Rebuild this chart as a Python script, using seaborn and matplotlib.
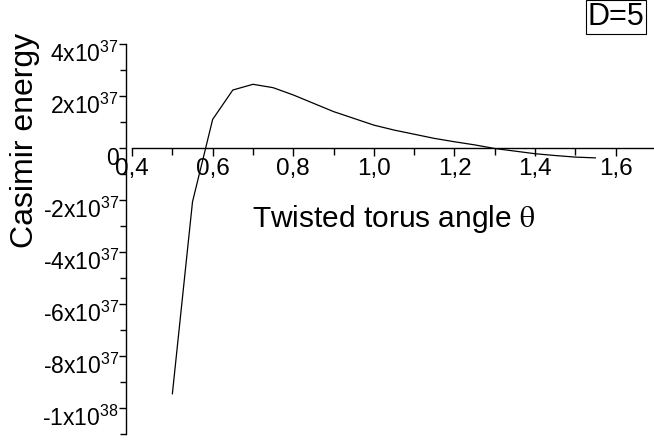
import matplotlib
matplotlib.use("Agg")
import matplotlib.pyplot as plt
import matplotlib.transforms as mtransforms
import seaborn as sns
import numpy as np
import pandas as pd
from matplotlib.ticker import FixedLocator

theta = [0.50, 0.55, 0.60, 0.65, 0.70, 0.75, 0.80, 0.85, 0.90, 0.95, 1.00,
         1.05, 1.10, 1.15, 1.20, 1.25, 1.30, 1.35, 1.40, 1.45, 1.50, 1.55]
energy_e37 = [-9.46, -2.07, 1.10, 2.23, 2.45, 2.32, 2.04, 1.72, 1.40, 1.14, 0.88,
              0.69, 0.53, 0.37, 0.24, 0.12, -0.02, -0.12, -0.22, -0.29, -0.35, -0.38]
xticks = [0.4, 0.6, 0.8, 1.0, 1.2, 1.4, 1.6]
xtick_labels = ["0,4", "0,6", "0,8", "1,0", "1,2", "1,4", "1,6"]
yticks = [4e37, 2e37, 0, -2e37, -4e37, -6e37, -8e37, -1e38]
ytick_labels = [r"4x10$^{\mathregular{37}}$", r"2x10$^{\mathregular{37}}$", "0",
                r"-2x10$^{\mathregular{37}}$", r"-4x10$^{\mathregular{37}}$",
                r"-6x10$^{\mathregular{37}}$", r"-8x10$^{\mathregular{37}}$",
                r"-1x10$^{\mathregular{38}}$"]

sns.set_theme(style="white")
plt.rcParams['font.family'] = ['Liberation Sans', 'DejaVu Sans']
plt.rcParams['mathtext.default'] = 'regular'

df = pd.DataFrame({"theta": theta, "E": np.array(energy_e37) * 1e37})

fig = plt.figure(figsize=(6.54, 4.41), dpi=100)
ax = fig.add_axes([126/654, 7/441, 528/654, 390/441])
sns.lineplot(data=df, x="theta", y="E", ax=ax, color="black", linewidth=0.9)

ax.set_xlim(0.385, 1.695)
ax.set_ylim(-1.1e38, 4e37)

ax.spines['top'].set_visible(False)
ax.spines['right'].set_visible(False)
ax.spines['bottom'].set_position(('data', 0))
ax.spines['bottom'].set_bounds(0.4, 1.695)
for s in ['left', 'bottom']:
    ax.spines[s].set_color('black')
    ax.spines[s].set_linewidth(1.0)

ax.xaxis.set_major_locator(FixedLocator(xticks))
ax.set_xticklabels(xtick_labels)
ax.xaxis.set_minor_locator(FixedLocator([0.5, 0.7, 0.9, 1.1, 1.3, 1.5]))
ax.yaxis.set_major_locator(FixedLocator(yticks))
ax.set_yticklabels(ytick_labels)
ax.yaxis.set_minor_locator(FixedLocator([3e37, 1e37, -1e37, -3e37, -5e37, -7e37, -9e37, -1.1e38]))

ax.tick_params(axis='both', which='both', direction='out', color='black',
               labelcolor='black', width=1.0,
               bottom=True, left=True, top=False, right=False)
ax.tick_params(axis='x', which='major', length=6, pad=1, labelsize=17.5)
ax.tick_params(axis='x', which='minor', length=5)
ax.tick_params(axis='y', which='major', length=5, pad=0, labelsize=16.5)
ax.tick_params(axis='y', which='minor', length=4)
ax.yaxis.get_offset_text().set_visible(False)

shift = mtransforms.ScaledTranslation(0, -8/100, fig.dpi_scale_trans)
for lab in ax.get_yticklabels():
    lab.set_transform(lab.get_transform() + shift)

ax.set_xlabel("")
ax.set_ylabel("")
fig.text(394/654, 1 - 219/441, r"Twisted torus angle $\mathrm{\theta}$", fontsize=21.5,
         ha='center', va='center', math_fontfamily='stix', color='black')
fig.text(25/654, 1 - 140/441, "Casimir energy", fontsize=23, rotation=90,
         ha='center', va='center', color='black')
fig.text(616/654, 1 - 17/441, "D=5", fontsize=22, ha='center', va='center', color='black',
         bbox=dict(boxstyle='square,pad=0.05', facecolor='white', edgecolor='black', linewidth=0.8))

fig.savefig("out.png", dpi=100)
